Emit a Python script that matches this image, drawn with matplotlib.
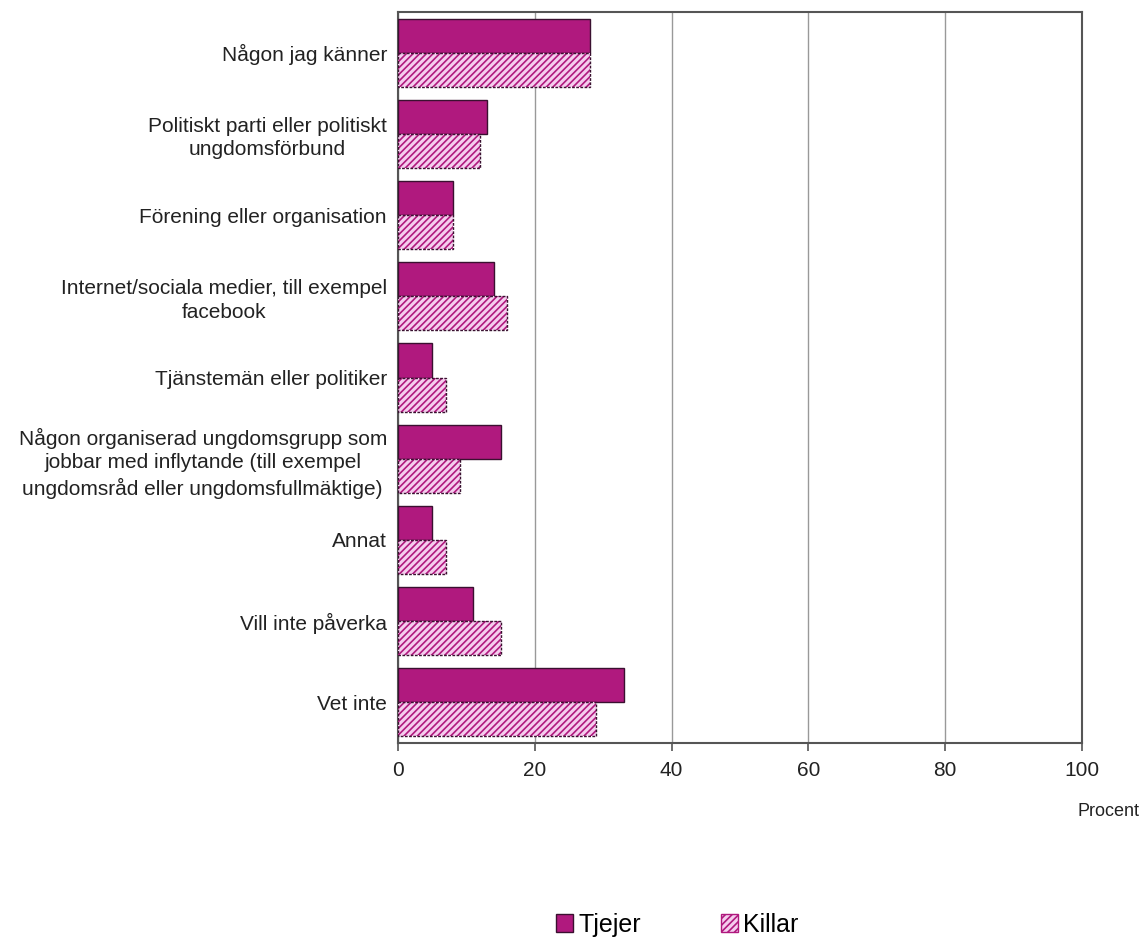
import numpy as np
import matplotlib
matplotlib.use("Agg")
import matplotlib.pyplot as plt
from matplotlib.patches import Patch

plt.rcParams['font.family'] = ['Liberation Sans', 'DejaVu Sans']
plt.rcParams['hatch.linewidth'] = 1.2

categories = [
    "Någon jag känner",
    "Politiskt parti eller politiskt\nungdomsförbund",
    "Förening eller organisation",
    "Internet/sociala medier, till exempel\nfacebook",
    "Tjänstemän eller politiker",
    "Någon organiserad ungdomsgrupp som\njobbar med inflytande (till exempel\nungdomsråd eller ungdomsfullmäktige)",
    "Annat",
    "Vill inte påverka",
    "Vet inte",
]
tjejer = [28, 13, 8, 14, 5, 15, 5, 11, 33]
killar = [28, 12, 8, 16, 7, 9, 7, 15, 29]
xticks = [0, 20, 40, 60, 80, 100]

magenta = '#B0197E'
pink = '#F5CDEE'
dark = '#3a1030'

fig = plt.figure(figsize=(11.42, 9.4), dpi=100)
ax = fig.add_axes([0.3485, 0.2096, 0.5990, 0.7776])

y = np.arange(len(categories))
h = 0.42
ax.barh(y - h / 2, tjejer, height=h, color=magenta, edgecolor=dark, linewidth=1, zorder=3)
ax.barh(y + h / 2, killar, height=h, color=pink, edgecolor=magenta, hatch='/////', linewidth=0, zorder=3)
ax.barh(y + h / 2, killar, height=h, fill=False, edgecolor=dark, linewidth=1, linestyle=(0, (2, 1)), zorder=4)

ax.set_ylim(len(categories) - 0.5, -0.5)
ax.set_yticks(y)
ax.set_yticklabels(categories, fontsize=15, color='#222222', linespacing=1.3,
                   multialignment='center')
ax.tick_params(axis='y', length=0, pad=8)

ax.set_xlim(0, 100)
ax.set_xticks(xticks)
ax.set_xticklabels([str(v) for v in xticks], fontsize=15, color='#222222')
ax.tick_params(axis='x', length=6, width=1.2, color='#555555', pad=7)
ax.xaxis.grid(True, color='#999999', linewidth=1, zorder=0)
ax.set_axisbelow(True)

for s in ax.spines.values():
    s.set_color('#555555')
    s.set_linewidth(1.5)

fig.text(0.9975, 0.137, "Procent", ha='right', va='center', fontsize=13, color='#222222')

handles = [
    Patch(facecolor=magenta, edgecolor=dark, label='Tjejer'),
    Patch(facecolor=pink, edgecolor=magenta, hatch='/////', label='Killar'),
]
fig.legend(handles=handles, loc='center', bbox_to_anchor=(0.593, 0.016), ncol=2,
           frameon=False, fontsize=18, handlelength=0.7, handleheight=0.7,
           handletextpad=0.2, columnspacing=3.2)

fig.savefig('out.png', dpi=100, facecolor='white')
